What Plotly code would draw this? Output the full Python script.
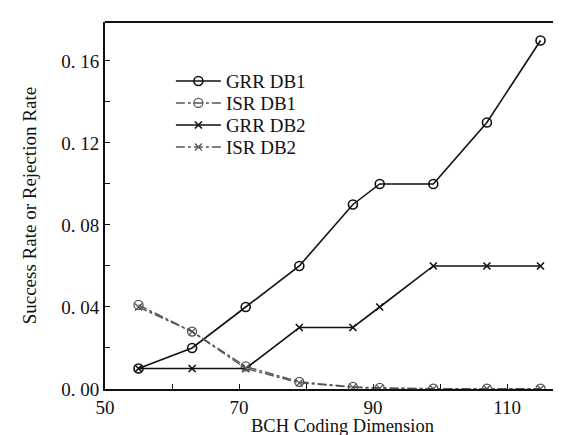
import plotly.graph_objects as go

dims = [55, 63, 71, 79, 87, 91, 99, 107, 115]
grr_db1 = [0.010, 0.020, 0.040, 0.060, 0.090, 0.100, 0.100, 0.130, 0.170]
isr_db1 = [0.041, 0.028, 0.011, 0.0035, 0.001, 0.0005, 0.0002, 0.0002, 0.0002]
grr_db2 = [0.010, 0.010, 0.010, 0.030, 0.030, 0.040, 0.060, 0.060, 0.060]
isr_db2 = [0.040, 0.028, 0.010, 0.003, 0.0008, 0.0003, 0.0001, 0.0001, 0.0001]

y_ticks = [0.0, 0.04, 0.08, 0.12, 0.16]
y_ticktext = ["0. 00", "0. 04", "0. 08", "0. 12", "0. 16"]
x_ticks = [50, 70, 90, 110]

FONT = "'Liberation Serif', 'Times New Roman', serif"
FS = 19

fig = go.Figure()
fig.add_trace(go.Scatter(x=dims, y=grr_db1, name="GRR DB1", mode="lines+markers", legend="legend",
                         line=dict(color="#111", width=1.6),
                         marker=dict(symbol="circle-open", size=9, color="#111", line=dict(width=1.6))))
fig.add_trace(go.Scatter(x=dims, y=isr_db1, name="ISR DB1", mode="lines+markers", legend="legend2",
                         line=dict(color="#555", width=1.4, dash="dashdot"),
                         marker=dict(symbol="circle-open", size=9, color="#555", line=dict(width=1.3))))
fig.add_trace(go.Scatter(x=dims, y=grr_db2, name="GRR DB2", mode="lines+markers", legend="legend3",
                         line=dict(color="#111", width=1.6),
                         marker=dict(symbol="x-thin-open", size=7, color="#111", line=dict(width=1.6))))
fig.add_trace(go.Scatter(x=dims, y=isr_db2, name="ISR DB2", mode="lines+markers", legend="legend4",
                         line=dict(color="#555", width=1.4, dash="dashdot"),
                         marker=dict(symbol="x-thin-open", size=7, color="#555", line=dict(width=1.3))))

leg_common = dict(x=0.142, xanchor="left", yanchor="middle",
                  bgcolor="rgba(0,0,0,0)", font=dict(size=FS, family=FONT), itemwidth=45)
leg_rows = [0.839, 0.779, 0.719, 0.659]

fig.update_layout(
    width=561, height=435,
    margin=dict(l=97, r=0, t=14, b=54),
    paper_bgcolor="white", plot_bgcolor="white",
    font=dict(family=FONT, size=FS, color="#111"),
    showlegend=True,
    legend=dict(y=leg_rows[0], **leg_common),
    legend2=dict(y=leg_rows[1], **leg_common),
    legend3=dict(y=leg_rows[2], **leg_common),
    legend4=dict(y=leg_rows[3], **leg_common),
    xaxis=dict(range=[50, 119.25], tickvals=x_ticks, ticks="inside", ticklen=5,
               tickcolor="#111", showline=True, linecolor="#111", linewidth=2,
               showgrid=False, zeroline=False, tickfont=dict(size=FS, family=FONT),
               minor=dict(dtick=10, tick0=50, ticks="inside", ticklen=5, tickcolor="#111")),
    yaxis=dict(range=[0, 0.179], tickvals=y_ticks, ticktext=y_ticktext, ticks="inside",
               ticklen=5, tickcolor="#111", showline=True, linecolor="#111", linewidth=2,
               showgrid=False, zeroline=False, tickfont=dict(size=FS, family=FONT),
               minor=dict(dtick=0.02, tick0=0, ticks="inside", ticklen=5, tickcolor="#111")),
    shapes=[dict(type="line", xref="paper", yref="paper", x0=0, x1=1, y0=1, y1=1,
                 line=dict(color="#111", width=2))],
    annotations=[
        dict(text="BCH Coding Dimension", xref="paper", yref="paper", x=0.512, y=-0.100,
             xanchor="center", yanchor="middle", showarrow=False, borderpad=0,
             font=dict(size=18.5, family=FONT)),
        dict(text="Success Rate or Rejection Rate", xref="paper", yref="paper", x=-0.162, y=0.5,
             xanchor="center", yanchor="middle", textangle=-90, showarrow=False,
             font=dict(size=FS, family=FONT)),
    ],
)

fig.write_html("out.html")
